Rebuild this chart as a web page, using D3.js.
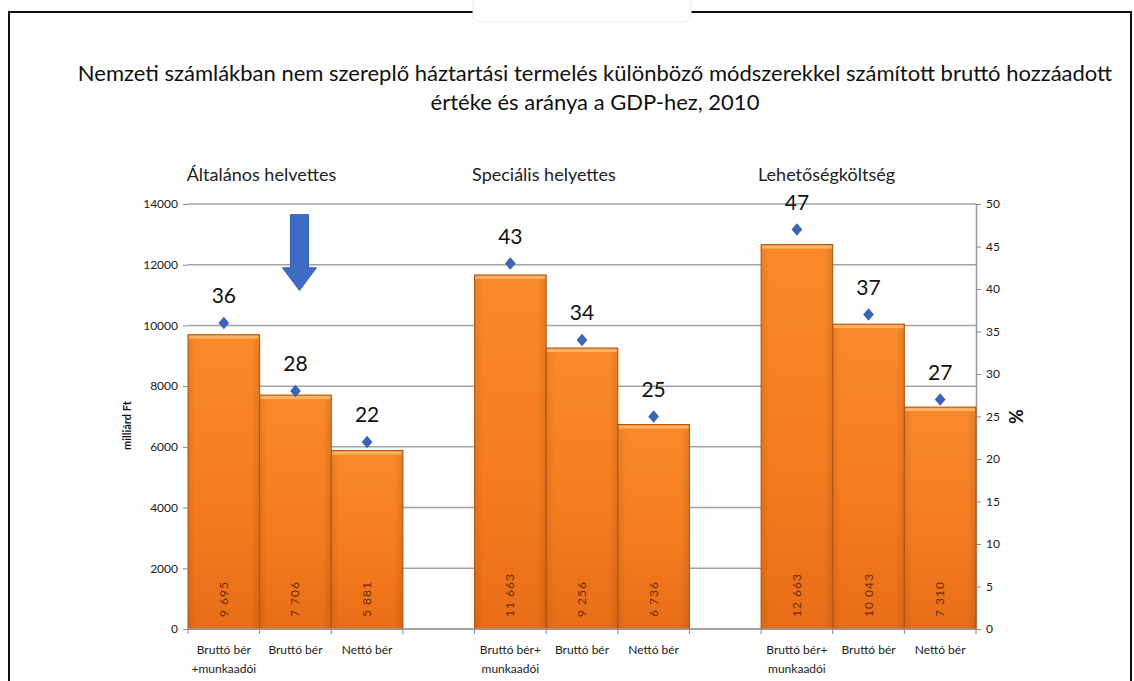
<!DOCTYPE html>
<html>
<head>
<meta charset="utf-8">
<script src="https://cdnjs.cloudflare.com/ajax/libs/d3/7.8.5/d3.min.js"></script>
<style>
  body { margin: 0; background: #fff; }
  svg { display: block; font-family: Lato, "Open Sans", sans-serif; }
</style>
</head>
<body>
<div id="chart"></div>
<script>
var width = 1134;
var height = 681;

// chart data
var titleLines = ["Nemzeti számlákban nem szereplő háztartási termelés különböző módszerekkel számított bruttó hozzáadott",
                  "értéke és aránya a GDP-hez, 2010"];
var groups = ["Általános helvettes", "Speciális helyettes", "Lehetőségköltség"];
var catLabels = [
    [["Bruttó bér", "+munkaadói"], ["Bruttó bér"], ["Nettó bér"]],
    [["Bruttó bér+", "munkaadói"], ["Bruttó bér"], ["Nettó bér"]],
    [["Bruttó bér+", "munkaadói"], ["Bruttó bér"], ["Nettó bér"]]
];
var values = [[9695, 7706, 5881], [11663, 9256, 6736], [12663, 10043, 7310]];
var shares = [[36, 28, 22], [43, 34, 25], [47, 37, 27]];
var leftTicks = [0, 2000, 4000, 6000, 8000, 10000, 12000, 14000];
var rightTicks = [0, 5, 10, 15, 20, 25, 30, 35, 40, 45, 50];

var svg = d3.select("#chart").append("svg")
    .attr("width", width)
    .attr("height", height);

var defs = svg.append("defs");
var grad = defs.append("linearGradient")
    .attr("id", "barGrad")
    .attr("x1", 0).attr("y1", 0).attr("x2", 0).attr("y2", 1);
grad.append("stop").attr("offset", "0%").attr("stop-color", "#f98a2a");
grad.append("stop").attr("offset", "60%").attr("stop-color", "#f57b1f");
grad.append("stop").attr("offset", "100%").attr("stop-color", "#e86d18");

var side = defs.append("linearGradient")
    .attr("id", "sideGrad")
    .attr("x1", 0).attr("y1", 0).attr("x2", 1).attr("y2", 0);
side.append("stop").attr("offset", "0%").attr("stop-color", "#000").attr("stop-opacity", 0.08);
side.append("stop").attr("offset", "12%").attr("stop-color", "#000").attr("stop-opacity", 0);
side.append("stop").attr("offset", "88%").attr("stop-color", "#000").attr("stop-opacity", 0);
side.append("stop").attr("offset", "100%").attr("stop-color", "#000").attr("stop-opacity", 0.1);

// frame from the slide
svg.append("rect")
    .attr("x", 0).attr("y", 0).attr("width", width).attr("height", height)
    .attr("fill", "#fefefe");
svg.append("path")
    .attr("d", "M9," + height + "V12H1131V" + height)
    .attr("fill", "none")
    .attr("stroke", "#111")
    .attr("stroke-width", 2);
svg.append("rect")
    .attr("x", 473).attr("y", -12).attr("width", 218).attr("height", 34).attr("rx", 8)
    .attr("fill", "#fefefe")
    .attr("stroke", "#ececec");

// title
svg.selectAll(".title")
    .data(titleLines)
    .enter().append("text")
    .attr("class", "title")
    .attr("x", 595)
    .attr("y", function (d, i) { return 81 + i * 29; })
    .attr("text-anchor", "middle")
    .attr("font-size", 22)
    .attr("fill", "#111")
    .text(function (d) { return d; });

// slots: 3 bars per group with an empty slot between groups
var slots = [];
groups.forEach(function (g, gi) {
    if (gi > 0) slots.push("gap" + gi);
    values[gi].forEach(function (v, ci) { slots.push(gi + "-" + ci); });
});

var plotLeft = 188, plotRight = 976, plotTop = 204, plotBottom = 629;

var x = d3.scaleBand()
    .domain(slots)
    .range([plotLeft, plotRight])
    .padding(0);

var y = d3.scaleLinear()
    .domain([0, 14000])
    .range([plotBottom, plotTop]);

var y2 = d3.scaleLinear()
    .domain([0, 50])
    .range([plotBottom, plotTop]);

var bars = [];
groups.forEach(function (g, gi) {
    values[gi].forEach(function (v, ci) {
        bars.push({key: gi + "-" + ci, value: v, share: shares[gi][ci], label: catLabels[gi][ci]});
    });
});

// gridlines
svg.append("g")
    .selectAll("line")
    .data(leftTicks)
    .enter().append("line")
    .attr("x1", plotLeft)
    .attr("x2", plotRight)
    .attr("y1", function (d) { return y(d); })
    .attr("y2", function (d) { return y(d); })
    .attr("stroke", "#a3a3a3")
    .attr("stroke-width", 1.5);

// left axis
var leftAxis = svg.append("g")
    .attr("transform", "translate(" + plotLeft + ",0)")
    .call(d3.axisLeft(y).tickValues(leftTicks).tickSize(5).tickPadding(5).tickFormat(d3.format("d")));
leftAxis.select(".domain").remove();
leftAxis.selectAll("line").attr("stroke", "#8a8a8a");
leftAxis.selectAll("text").attr("font-size", 12).attr("fill", "#222").attr("font-family", "Lato, sans-serif");

// right axis
var rightAxis = svg.append("g")
    .attr("transform", "translate(" + plotRight + ",0)")
    .call(d3.axisRight(y2).tickValues(rightTicks).tickSize(5).tickPadding(5).tickSizeOuter(0));
rightAxis.select(".domain").attr("stroke", "#9a9a9a").attr("stroke-width", 1.5);
rightAxis.selectAll("line").attr("stroke", "#8a8a8a");
rightAxis.selectAll("text").attr("font-size", 12).attr("fill", "#222").attr("font-family", "Lato, sans-serif");

// bars
var barG = svg.append("g")
    .selectAll("g")
    .data(bars)
    .enter().append("g");

barG.append("rect")
    .attr("x", function (d) { return x(d.key); })
    .attr("y", function (d) { return y(d.value); })
    .attr("width", x.bandwidth())
    .attr("height", function (d) { return y(0) - y(d.value); })
    .attr("fill", "url(#barGrad)")
    .attr("stroke", "#b9560f")
    .attr("stroke-width", 1);

barG.append("rect")
    .attr("x", function (d) { return x(d.key); })
    .attr("y", function (d) { return y(d.value); })
    .attr("width", x.bandwidth())
    .attr("height", function (d) { return y(0) - y(d.value); })
    .attr("fill", "url(#sideGrad)");

barG.append("rect")
    .attr("x", function (d) { return x(d.key) + 1; })
    .attr("y", function (d) { return y(d.value) + 1; })
    .attr("width", x.bandwidth() - 2)
    .attr("height", 3)
    .attr("fill", "#fbb266");

// values inside bars
var fmt = d3.formatLocale({decimal: ",", thousands: " ", grouping: [3], currency: ["", " Ft"]}).format(",d");
barG.append("text")
    .attr("transform", function (d) {
        return "translate(" + (x(d.key) + x.bandwidth() / 2 + 4) + "," + (y(0) - 12) + ") rotate(-90)";
    })
    .attr("font-size", 12)
    .attr("letter-spacing", 1)
    .attr("fill", "#6e2c14")
    .text(function (d) { return fmt(d.value); });

// x axis
svg.append("line")
    .attr("x1", plotLeft).attr("x2", plotRight)
    .attr("y1", plotBottom).attr("y2", plotBottom)
    .attr("stroke", "#9a9a9a").attr("stroke-width", 1.5);

svg.append("g")
    .selectAll("line")
    .data(slots.concat(["end"]))
    .enter().append("line")
    .attr("x1", function (d) { return d == "end" ? plotRight : x(d); })
    .attr("x2", function (d) { return d == "end" ? plotRight : x(d); })
    .attr("y1", plotBottom)
    .attr("y2", plotBottom + 5)
    .attr("stroke", "#8a8a8a");

var catText = svg.append("g")
    .selectAll("text")
    .data(bars)
    .enter().append("text")
    .attr("x", function (d) { return x(d.key) + x.bandwidth() / 2; })
    .attr("y", 654)
    .attr("text-anchor", "middle")
    .attr("font-size", 12)
    .attr("fill", "#222");
catText.selectAll("tspan")
    .data(function (d) { return d.label; })
    .enter().append("tspan")
    .attr("x", function () { return this.parentNode.getAttribute("x"); })
    .attr("dy", function (d, i) { return i == 0 ? 0 : 19; })
    .text(function (d) { return d; });

// share markers
var diamond = {
    draw: function (context, size) {
        var h = Math.sqrt(size) / 2;
        context.moveTo(0, -h);
        context.lineTo(h * 0.85, 0);
        context.lineTo(0, h);
        context.lineTo(-h * 0.85, 0);
        context.closePath();
    }
};

svg.append("g")
    .selectAll("path")
    .data(bars)
    .enter().append("path")
    .attr("transform", function (d) {
        return "translate(" + (x(d.key) + x.bandwidth() / 2) + "," + y2(d.share) + ")";
    })
    .attr("d", d3.symbol().type(diamond).size(160))
    .attr("fill", "#3d64b4");

svg.append("g")
    .selectAll("text")
    .data(bars)
    .enter().append("text")
    .attr("x", function (d) { return x(d.key) + x.bandwidth() / 2; })
    .attr("y", function (d) { return y2(d.share) - 20; })
    .attr("text-anchor", "middle")
    .attr("font-size", 21)
    .attr("fill", "#111")
    .text(function (d) { return d.share; });

// group titles
svg.append("g")
    .selectAll("text")
    .data(groups)
    .enter().append("text")
    .attr("x", function (d, gi) { return x(gi + "-1") + x.bandwidth() / 2 - 34 - gi * 4; })
    .attr("y", 181)
    .attr("text-anchor", "middle")
    .attr("font-size", 18)
    .attr("fill", "#222")
    .text(function (d) { return d; });

// axis titles
svg.append("text")
    .attr("transform", "translate(131," + y(6700) + ") rotate(-90)")
    .attr("text-anchor", "middle")
    .attr("font-size", 11)
    .attr("font-weight", "bold")
    .attr("fill", "#111")
    .text("milliárd Ft");

svg.append("text")
    .attr("transform", "translate(1009," + y2(25) + ") rotate(90)")
    .attr("text-anchor", "middle")
    .attr("font-size", 18)
    .attr("font-weight", "bold")
    .attr("fill", "#111")
    .text("%");

// blue arrow annotation
var ax = x("0-1") + x.bandwidth() / 2 + 4;
var aTop = y(13650), aNeck = y(11900), aTip = y(11150);
svg.append("path")
    .attr("d", "M" + (ax - 9) + "," + aTop + "H" + (ax + 9) + "V" + aNeck + "H" + (ax + 17) +
        "L" + ax + "," + aTip + "L" + (ax - 17) + "," + aNeck + "H" + (ax - 9) + "Z")
    .attr("fill", "#3f6cc3")
    .attr("stroke", "#3560b0");
</script>
</body>
</html>
